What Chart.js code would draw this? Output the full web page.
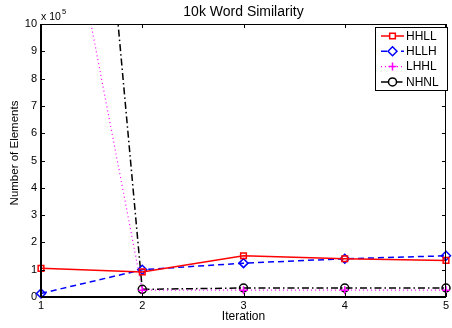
<!DOCTYPE html>
<html>
<head>
<meta charset="utf-8">
<script src="https://cdn.jsdelivr.net/npm/chart.js@4.4.1/dist/chart.umd.min.js"></script>
<style>
  html, body { margin: 0; padding: 0; background: #fff; }
  #chart { display: block; }
</style>
</head>
<body>
<canvas id="chart" width="452" height="328"></canvas>
<script>
// data (number of elements per iteration)
const iterations = [1, 2, 3, 4, 5];
const hhll = [105000, 92000, 151000, 140000, 134000];
const hllh = [13000, 100000, 124000, 140000, 151000];
const lhhl = [1950000, 25000, 25000, 25000, 25000];
const nhnl = [4100000, 28000, 33000, 33000, 33000];
const yTickValues = [0, 1, 2, 3, 4, 5, 6, 7, 8, 9, 10]; // x 10^5
const seriesNames = ['HHLL', 'HLLH', 'LHHL', 'NHNL'];

const FONT = '"Liberation Sans", Arial, Helvetica, sans-serif';

const toPoints = vals => vals.map((v, i) => ({ x: iterations[i], y: v }));

const seriesStyles = [
    { color: '#ff0000', dash: [], point: 'rect', radius: 4 },
    { color: '#0000ff', dash: [6, 4], point: 'rectRot', radius: 4.5 },
    { color: '#ff00ff', dash: [1, 3], point: 'cross', radius: 4 },
    { color: '#000000', dash: [7, 3, 1.5, 3], point: 'circle', radius: 4 }
];

const allValues = [hhll, hllh, lhhl, nhnl];

const datasets = allValues.map((vals, i) => ({
    label: seriesNames[i],
    data: toPoints(vals),
    borderColor: seriesStyles[i].color,
    backgroundColor: 'rgba(0,0,0,0)',
    borderWidth: i === 2 ? 1.2 : 1.5,
    borderDash: seriesStyles[i].dash,
    pointStyle: seriesStyles[i].point,
    pointRadius: seriesStyles[i].radius,
    pointBorderColor: seriesStyles[i].color,
    pointBackgroundColor: 'rgba(0,0,0,0)',
    pointBorderWidth: 1.5,
    tension: 0,
    clip: { left: 10, right: 10, top: 0, bottom: 10 }
}));

// MATLAB style frame, inward ticks, titles, exponent label and legend
const matlabDecor = {
    id: 'matlabDecor',
    afterDraw(chart) {
        const { ctx, chartArea: a, scales } = chart;
        ctx.save();

        // frame
        ctx.strokeStyle = '#000';
        ctx.lineWidth = 1;
        ctx.setLineDash([]);
        ctx.strokeRect(a.left + 0.5, a.top + 0.5, a.right - a.left - 1, a.bottom - a.top);

        const tl = 4;
        ctx.beginPath();
        iterations.forEach(it => {
            const x = Math.round(scales.x.getPixelForValue(it)) + 0.5;
            ctx.moveTo(x, a.bottom); ctx.lineTo(x, a.bottom - tl);
            ctx.moveTo(x, a.top); ctx.lineTo(x, a.top + tl);
        });
        yTickValues.forEach(t => {
            const y = Math.round(scales.y.getPixelForValue(t * 1e5)) + 0.5;
            ctx.moveTo(a.left, y); ctx.lineTo(a.left + tl, y);
            ctx.moveTo(a.right, y); ctx.lineTo(a.right - tl, y);
        });
        ctx.stroke();

        // bottom and left axis lines a bit heavier like the reference
        ctx.lineWidth = 2;
        ctx.beginPath();
        ctx.moveTo(a.left, a.bottom); ctx.lineTo(a.right, a.bottom);
        ctx.moveTo(a.left, a.bottom); ctx.lineTo(a.left, a.top);
        ctx.stroke();

        // title
        ctx.fillStyle = '#000';
        ctx.font = '14px ' + FONT;
        ctx.textAlign = 'center';
        ctx.textBaseline = 'middle';
        ctx.fillText('10k Word Similarity', (a.left + a.right) / 2, 12);

        // axis titles
        ctx.font = '12px ' + FONT;
        ctx.fillText('Iteration', (a.left + a.right) / 2, 317);
        ctx.save();
        ctx.translate(15, 153);
        ctx.rotate(-Math.PI / 2);
        ctx.font = '11.5px ' + FONT;
        ctx.fillText('Number of Elements', 0, 0);
        ctx.restore();

        // exponent
        ctx.textAlign = 'left';
        ctx.textBaseline = 'alphabetic';
        ctx.font = '10.5px ' + FONT;
        ctx.fillText('x 10', a.left, 20);
        ctx.font = '7.5px ' + FONT;
        ctx.fillText('5', a.left + 21, 13.5);

        // legend
        const lx = 375, ly = 27, lw = 72, lh = 63;
        ctx.fillStyle = '#fff';
        ctx.fillRect(lx, ly, lw, lh);
        ctx.strokeStyle = '#000';
        ctx.lineWidth = 1;
        ctx.strokeRect(lx + 0.5, ly + 0.5, lw, lh);
        chart.data.datasets.forEach((ds, i) => {
            const y = ly + 9 + i * 15.3;
            ctx.strokeStyle = ds.borderColor;
            ctx.lineWidth = ds.borderWidth;
            ctx.setLineDash(ds.borderDash);
            ctx.beginPath();
            ctx.moveTo(lx + 6, y);
            ctx.lineTo(lx + 29, y);
            ctx.stroke();
            ctx.setLineDash([]);
            ctx.fillStyle = '#fff';
            ctx.lineWidth = ds.pointBorderWidth;
            Chart.helpers.drawPoint(ctx, {
                pointStyle: ds.pointStyle,
                radius: ds.pointRadius,
                borderWidth: ds.pointBorderWidth,
                rotation: 0
            }, lx + 17.5, y);
            ctx.fillStyle = '#000';
            ctx.font = '12px ' + FONT;
            ctx.textBaseline = 'middle';
            ctx.fillText(ds.label, lx + 31, y + 0.5);
        });

        ctx.restore();
    }
};

new Chart(document.getElementById('chart'), {
    type: 'line',
    data: { datasets },
    options: {
        responsive: false,
        devicePixelRatio: 1,
        animation: false,
        layout: { padding: { left: 0, right: 2, top: 24, bottom: 0 } },
        plugins: {
            legend: { display: false },
            title: { display: false },
            tooltip: { enabled: false }
        },
        scales: {
            x: {
                type: 'linear',
                min: 1,
                max: 5,
                afterFit: s => { s.height = 31; s.paddingLeft = 0; s.paddingRight = 0; },
                afterBuildTicks: s => { s.ticks = iterations.map(v => ({ value: v })); },
                grid: { display: false, drawTicks: false },
                border: { display: false },
                ticks: {
                    padding: 2,
                    color: '#000',
                    font: { family: FONT, size: 11 },
                    maxRotation: 0
                }
            },
            y: {
                min: 0,
                max: 1e6,
                afterFit: s => { s.width = 41; s.paddingTop = 0; s.paddingBottom = 0; },
                afterBuildTicks: s => { s.ticks = yTickValues.map(v => ({ value: v * 1e5 })); },
                grid: { display: false, drawTicks: false },
                border: { display: false },
                ticks: {
                    padding: 4,
                    color: '#000',
                    font: { family: FONT, size: 11 },
                    callback: v => String(Math.round(v / 1e5))
                }
            }
        }
    },
    plugins: [matlabDecor]
});
</script>
</body>
</html>
